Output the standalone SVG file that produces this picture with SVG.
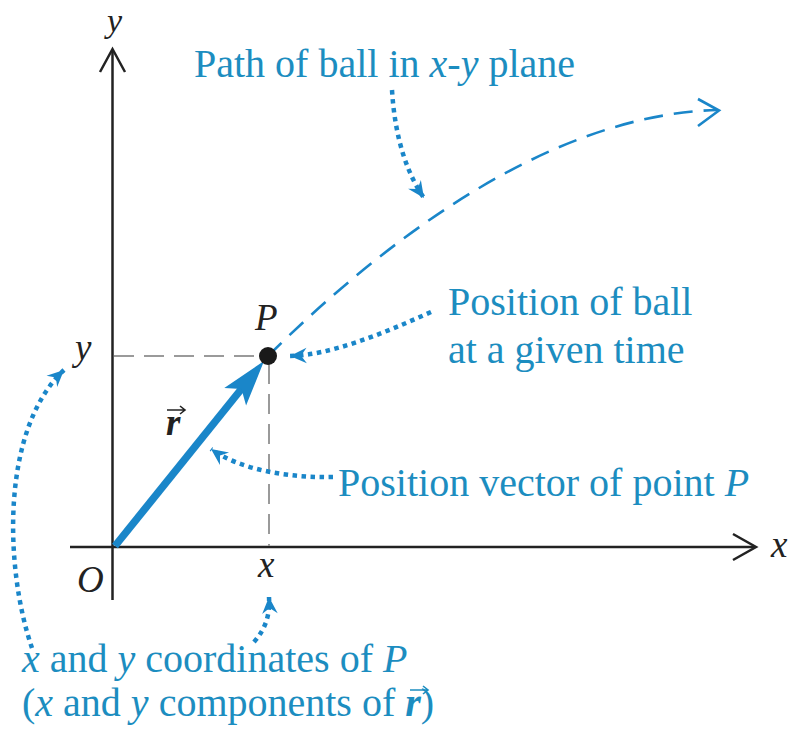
<svg xmlns="http://www.w3.org/2000/svg" width="792" height="732" viewBox="0 0 792 732">
<style>
.lbl{font-family:'Liberation Serif','Tinos','Times New Roman','DejaVu Serif',serif;font-size:40px;fill:#1c8dc0}
.ax{font-family:'Liberation Serif','Tinos','Times New Roman','DejaVu Serif',serif;font-size:37px;font-style:italic;fill:#222}
.it{font-style:italic}
.bi{font-style:italic;font-weight:bold}
.axis{stroke:#222;stroke-width:2.5;fill:none}
.guide{stroke:#9a9a9a;stroke-width:2;stroke-dasharray:20 10;fill:none}
.path{stroke:#1a86c9;stroke-width:2.6;stroke-dasharray:19 11;fill:none}
.dot{stroke:#1a86c9;stroke-width:4.5;stroke-dasharray:4.5 4.5;fill:none;marker-end:url(#dh)}
.vec{stroke-width:1.6;fill:none}
</style>
<defs>
<marker id="dh" markerUnits="userSpaceOnUse" markerWidth="20" markerHeight="20" viewBox="-16 -8 18 16" refX="0" refY="0" orient="auto">
<path d="M0,0 L-15,-7 L-10,0 L-15,7 Z" fill="#1a86c9"/>
</marker>
</defs>
<rect width="792" height="732" fill="#fff"/>
<g id="axes">
<line class="axis" x1="112.5" y1="50" x2="112.5" y2="600"/>
<path class="axis" d="M100,72 L112.5,49 L125,72"/>
<line class="axis" x1="70" y1="547" x2="755" y2="547"/>
<path class="axis" d="M733,534 L756,547 L733,560"/>
<text class="ax" x="107" y="32" style="font-size:34px">y</text>
<text class="ax" x="771" y="557">x</text>
<text class="ax" x="77" y="592">O</text>
</g>
<g id="guides">
<line class="guide" x1="114" y1="356" x2="262" y2="356"/>
<line class="guide" x1="269" y1="364" x2="269" y2="546"/>
<text class="ax" x="75" y="360">y</text>
<text class="ax" x="258" y="577">x</text>
</g>
<g id="trajectory">
<path class="path" d="M268,356 C370,255 540,115 717,110"/>
<path d="M698,99 L719,110.5 L698,126" stroke="#1a86c9" stroke-width="2.6" fill="none"/>
</g>
<g id="vector">
<line x1="115" y1="546" x2="243" y2="387" stroke="#1a86c9" stroke-width="7.5"/>
<path d="M0,0 L-46,-14 L-36,0 L-46,14 Z" fill="#1a86c9" transform="translate(264,361) rotate(-51.2)"/>
<text class="ax" x="166" y="435" font-weight="bold">r</text>
<path class="vec" stroke="#222" d="M167,410 H184 M180,406 L185,410 L180,414"/>
</g>
<g id="point">
<circle cx="268" cy="356" r="9" fill="#1a1a1a"/>
<text class="ax" x="255" y="330">P</text>
</g>
<g id="connectors">
<path class="dot" d="M392,90 C395,140 408,175 424,198"/>
<path class="dot" d="M431,312 C380,335 330,355 290,356"/>
<path class="dot" d="M333,477 C290,478 240,470 211,449"/>
<path class="dot" d="M32,648 C5,570 0,430 64,370"/>
<path class="dot" d="M254,642 C266,628 270,615 269,597"/>
</g>
<g id="label-path">
<text class="lbl" x="194" y="77">Path of ball in <tspan class="it">x</tspan>-<tspan class="it">y</tspan> plane</text>
</g>
<g id="label-position">
<text class="lbl" x="448" y="315">Position of ball</text>
<text class="lbl" x="448" y="363">at a given time</text>
</g>
<g id="label-vector">
<text class="lbl" x="338" y="496">Position vector of point <tspan class="it">P</tspan></text>
</g>
<g id="label-coords">
<text class="lbl" x="22" y="672"><tspan class="it">x</tspan> and <tspan class="it">y</tspan> coordinates of <tspan class="it">P</tspan></text>
<text class="lbl" x="22" y="716">(<tspan class="it">x</tspan> and <tspan class="it">y</tspan> components of <tspan class="bi">r</tspan>)</text>
<path class="vec" stroke="#1c8dc0" d="M410,690 H427 M423,686 L428,690 L423,694"/>
</g>
</svg>
